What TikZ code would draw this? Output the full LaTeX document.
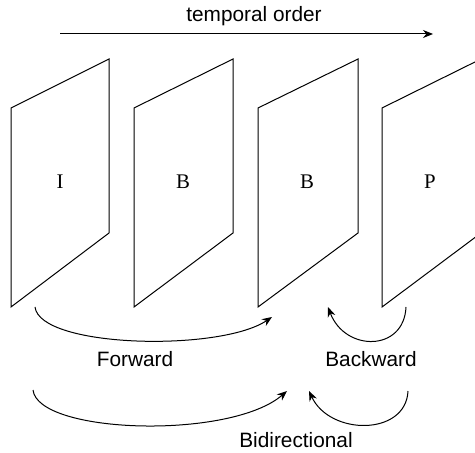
\documentclass[tikz,border=0pt]{standalone}
\usepackage{fontspec}
\setmainfont{Liberation Serif}
\setsansfont{Liberation Sans}
\usetikzlibrary{arrows.meta}

\begin{document}
\begin{tikzpicture}[x=0.5pt,y=-0.5pt,line width=0.5pt,
    >={Stealth[length=5pt,width=4pt]},
    frame/.style={draw,line join=miter},
    flabel/.style={font=\rmfamily\fontsize{10.4}{12}\selectfont},
    tlabel/.style={font=\sffamily\fontsize{10.4}{12}\selectfont}]
  \useasboundingbox (0,0) rectangle (475,453);
  \clip (0,0) rectangle (475,453);
  % time axis
  \coordinate (tstart) at (60,34);
  \coordinate (tend) at (433,34);
  \draw[->] (tstart)--(tend);
  \node[tlabel] (order) at (254,16) {temporal order};
  % frames
  \draw[frame] (11,108)--(109,59)--(109,233)--(11,307)--cycle;
  \draw[frame] (134,108)--(233,59)--(233,233)--(134,307)--cycle;
  \draw[frame] (258,108)--(358,59)--(358,233)--(258,307)--cycle;
  \draw[frame] (382,108)--(481,59)--(481,233)--(382,307)--cycle;
  \node[flabel] (fI) at (60,182) {I};
  \node[flabel] (fB1) at (183,182) {B};
  \node[flabel] (fB2) at (307,182) {B};
  \node[flabel] (fP) at (430,182) {P};
  % forward / backward
  \coordinate (fwdA) at (35,307);
  \coordinate (fwdB) at (272,317);
  \coordinate (bwdA) at (406,307);
  \coordinate (bwdB) at (328,307);
  \draw[->] (fwdA) .. controls (40,348) and (220,352) .. (fwdB);
  \draw[->] (bwdA) .. controls (404,352) and (345,352) .. (bwdB);
  \node[tlabel] (fwd) at (135,359) {Forward};
  \node[tlabel] (bwd) at (371,359) {Backward};
  % bidirectional
  \coordinate (biA) at (33,390);
  \coordinate (biB) at (287,391);
  \coordinate (biC) at (408,391);
  \coordinate (biD) at (309,391);
  \draw[->] (biA) .. controls (38,434) and (230,440) .. (biB);
  \draw[->] (biC) .. controls (406,436) and (330,436) .. (biD);
  \node[tlabel] (bi) at (296,440) {Bidirectional};
\end{tikzpicture}
\end{document}
